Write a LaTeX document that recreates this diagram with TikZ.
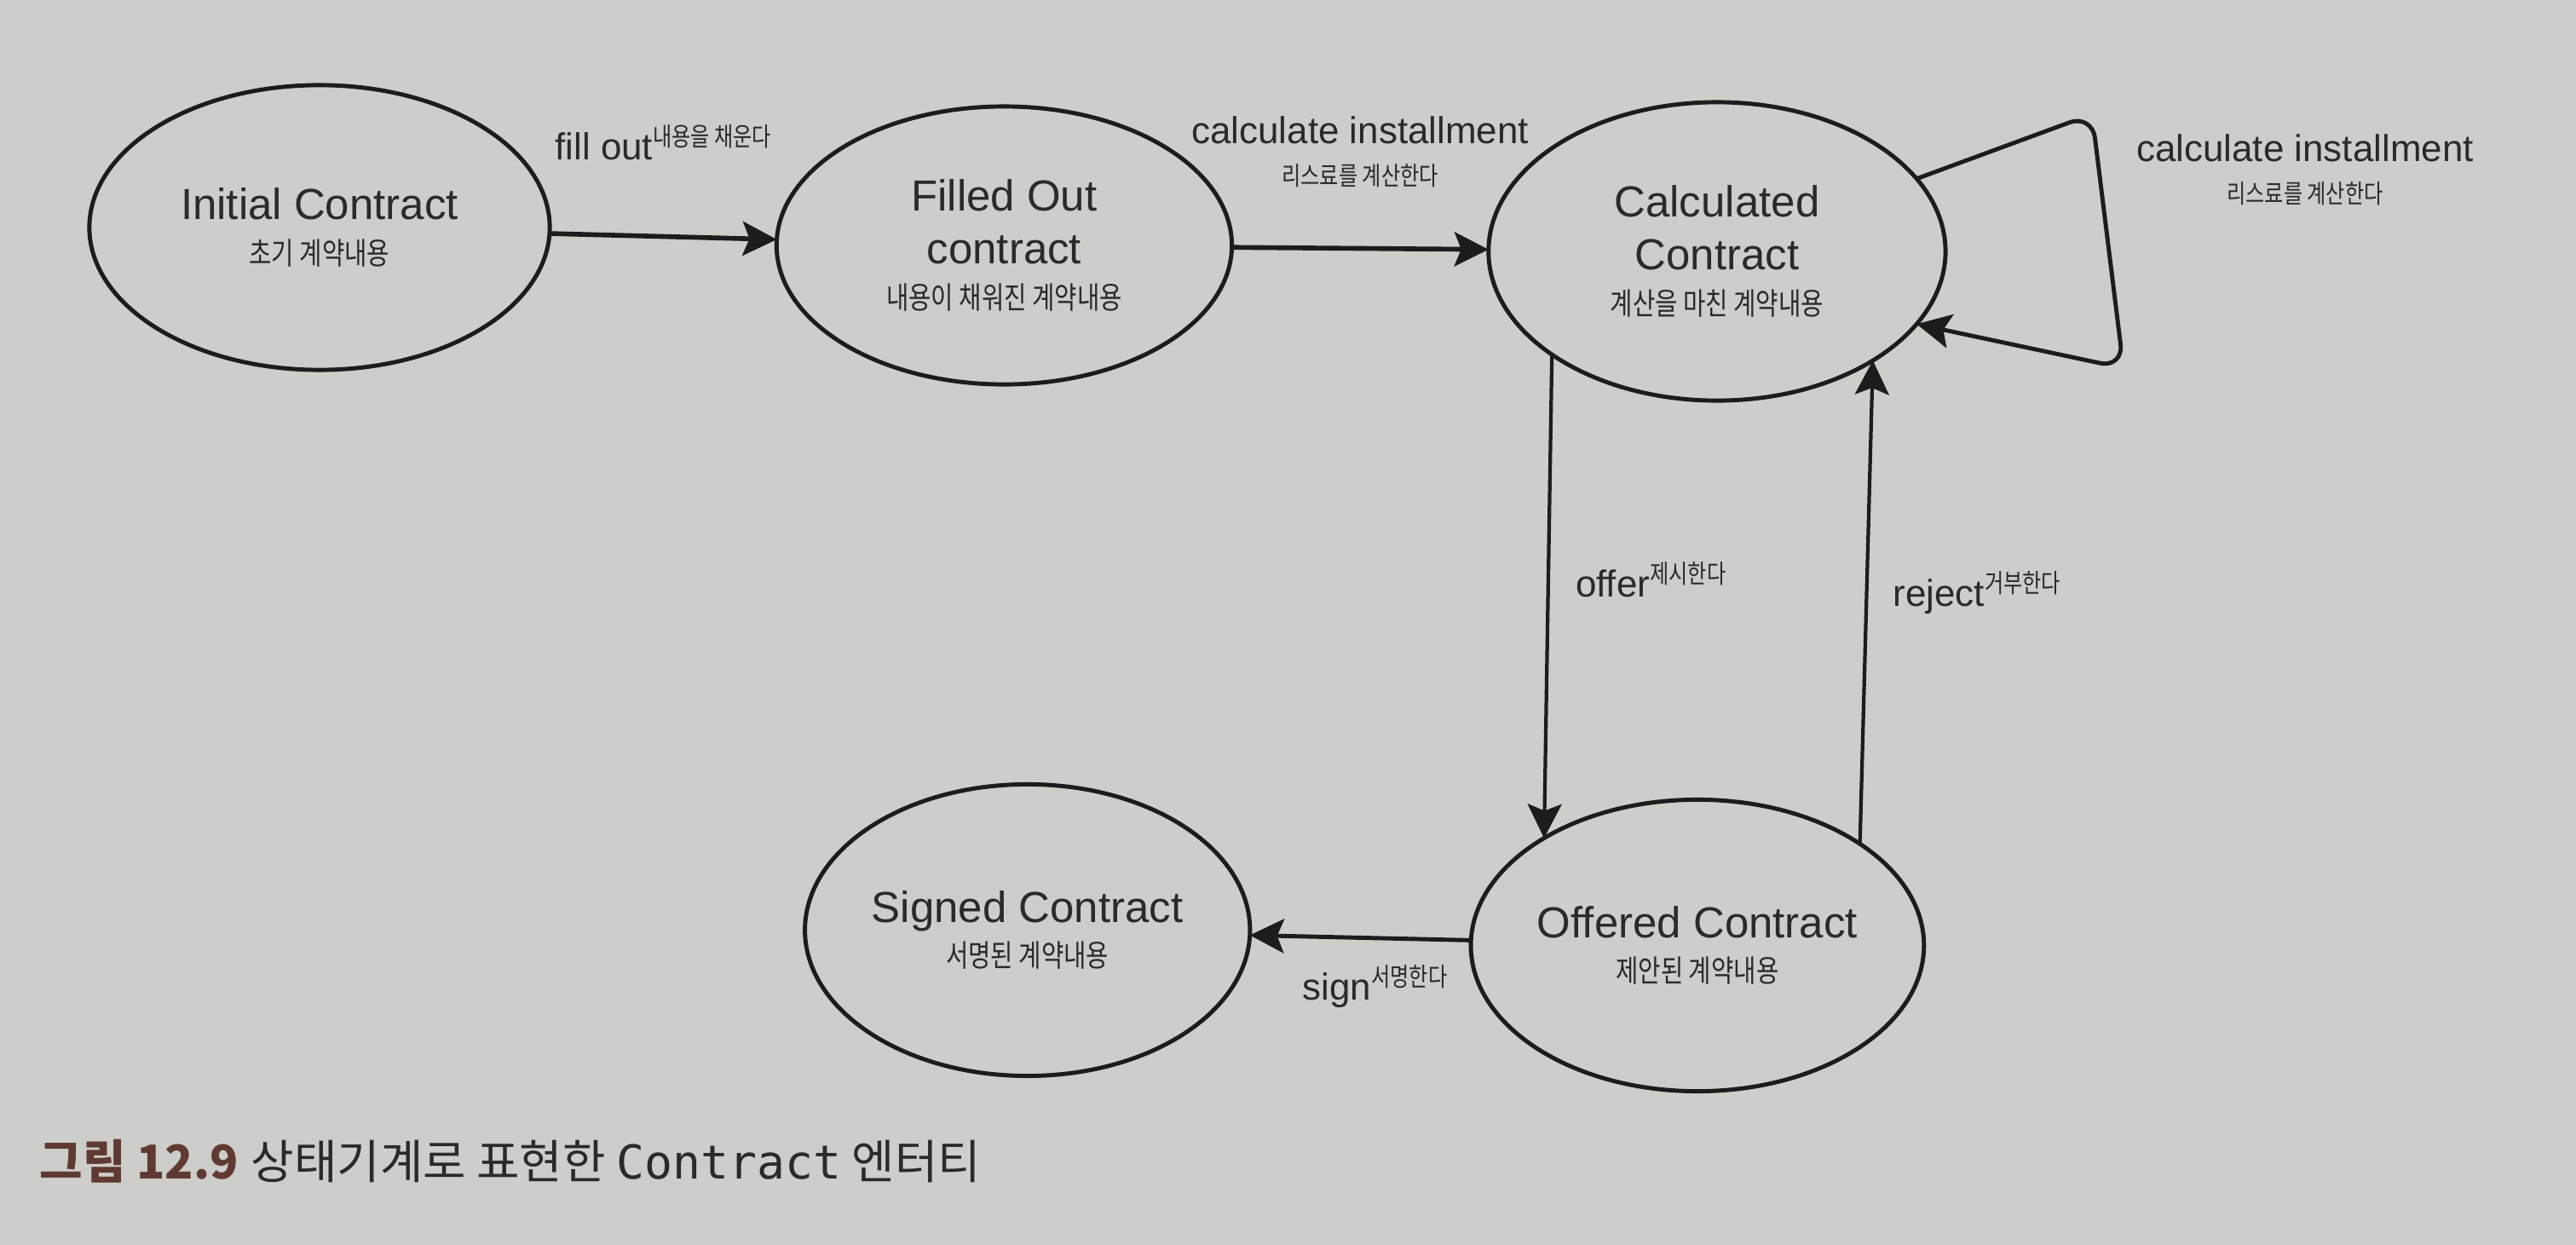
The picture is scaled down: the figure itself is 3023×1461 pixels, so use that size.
\documentclass[tikz,border=0pt]{standalone}
\usepackage{fontspec}
\setmainfont{Liberation Sans}
\newfontfamily\krfont[FakeStretch=0.8]{Noto Sans CJK KR}
\newfontfamily\capfont{Noto Sans CJK KR}
\newfontfamily\capmono{DejaVu Sans Mono}
\usetikzlibrary{shapes.geometric,positioning,arrows.meta}

\definecolor{paper}{RGB}{205,205,201}
\definecolor{ink}{RGB}{28,28,28}
\definecolor{textgray}{RGB}{42,42,42}
\definecolor{capbrown}{RGB}{95,58,50}

\newcommand{\korsub}[1]{{\krfont\fontsize{10.2}{12}\selectfont #1}}
\newcommand{\korsmall}[1]{{\krfont\fontsize{8.6}{10}\selectfont #1}}
\newcommand{\korsup}[1]{\raisebox{4.5pt}{\korsmall{#1}}}

\begin{document}
\begin{tikzpicture}[auto, x=0.01cm, y=-0.01cm,
  state/.style={ellipse, draw=ink, line width=1.4pt, inner sep=0pt, outer sep=0pt,
    align=center, text=textgray, font=\fontsize{14.5}{15}\selectfont},
  trans/.style={draw=ink, line width=1.2pt, -{Stealth[length=0.4cm,width=0.4cm,inset=0.08cm]}},
  tlabel/.style={inner sep=0pt, align=center, text=textgray, font=\fontsize{12.5}{14}\selectfont}]

  \useasboundingbox[fill=paper] (0,0) rectangle (3023,1461);

  \node[state, minimum width=5.4cm, minimum height=3.34cm] (state1) at (375,267)
    {Initial Contract\\\korsub{초기 계약내용}};
  \node[state, minimum width=5.34cm, minimum height=3.26cm] (state2) [right=2.66cm of state1, yshift=-0.21cm]
    {Filled Out\\[2.7pt]contract\\\korsub{내용이 채워진 계약내용}};
  \node[state, minimum width=5.36cm, minimum height=3.5cm] (state3) [right=3.01cm of state2, yshift=-0.07cm]
    {Calculated\\[2.7pt]Contract\\\korsub{계산을 마친 계약내용}};
  \node[state, minimum width=5.28cm, minimum height=3.42cm] (state5) [below=4.68cm of state3, xshift=-0.23cm]
    {Offered Contract\\\korsub{제안된 계약내용}};
  \node[state, minimum width=5.22cm, minimum height=3.42cm] (state4) [left=2.59cm of state5, yshift=0.18cm]
    {Signed Contract\\\korsub{서명된 계약내용}};

  % transitions between the states
  \draw[trans, line width=1.6pt] (state1) -- node[tlabel, above=0.87cm] {fill out\korsup{내용을 채운다}} (state2);
  \draw[trans, line width=1.6pt] (state2) -- node[tlabel, above=0.69cm] {calculate installment\\\korsmall{리스료를 계산한다}} (state3);

  % self loop on the calculated state
  \coordinate (loopA) at (2455,134);
  \coordinate (loopB) at (2492,432);
  \draw[trans, line width=1.4pt, rounded corners=0.28cm] (state3.20) -- (loopA) -- (loopB) -- (state3.-20);
  \node[tlabel] (loopnote) at (2705,199) {calculate installment\\\korsmall{리스료를 계산한다}};

  \draw[trans] (state3.212) -- node[tlabel, right=0.3cm, pos=0.465] {offer\korsup{제시한다}} (state5.145);
  \draw[trans] (state5.32) -- node[tlabel, right=0.29cm, pos=0.52] {reject\korsup{거부한다}} (state3.325);
  \draw[trans, line width=1.4pt] (state5) -- node[tlabel, below=0.3cm, xshift=0.17cm] {sign\korsup{서명한다}} (state4);

  \node[anchor=base west, inner sep=0pt, text=textgray, font=\fontsize{15.6}{18}\selectfont] (caption) at (46,1383)
    {{\capfont\bfseries\color{capbrown}그림 12.9} \capfont 상태기계로 표현한 {\capmono Contract} 엔터티};

\end{tikzpicture}
\end{document}
